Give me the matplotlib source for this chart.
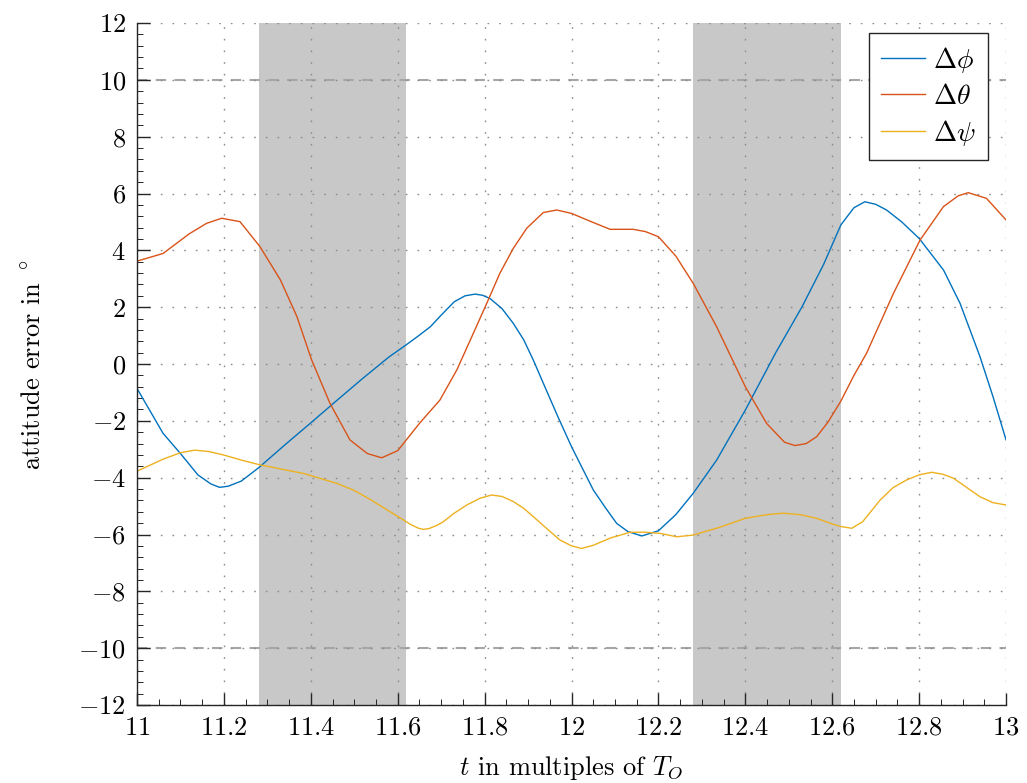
import numpy as np
import matplotlib
matplotlib.use("Agg")
import matplotlib.pyplot as plt
from matplotlib.ticker import MultipleLocator

plt.rcParams['font.family'] = 'serif'
plt.rcParams['font.serif'] = ['cmr10']
plt.rcParams['mathtext.fontset'] = 'cm'
plt.rcParams['axes.formatter.use_mathtext'] = True
plt.rcParams['axes.unicode_minus'] = True

# attitude errors (deg) over time (multiples of T_O)
t_phi = [11.00, 11.03, 11.06, 11.10, 11.14, 11.17, 11.19, 11.21, 11.24, 11.28,
         11.34, 11.40, 11.46, 11.52, 11.58, 11.62, 11.645, 11.675, 11.70, 11.73,
         11.755, 11.778, 11.795, 11.812, 11.84, 11.866, 11.89, 11.912, 11.94, 11.97,
         12.00, 12.05, 12.08, 12.104, 12.13, 12.162, 12.20, 12.24, 12.28, 12.334,
         12.40, 12.47, 12.53, 12.58, 12.62, 12.65, 12.675, 12.70, 12.725, 12.76,
         12.80, 12.856, 12.894, 12.94, 12.97, 13.00]
d_phi = [-0.86, -1.65, -2.44, -3.15, -3.90, -4.22, -4.34, -4.30, -4.12, -3.65,
         -2.85, -2.07, -1.28, -0.50, 0.25, 0.68, 0.96, 1.31, 1.72, 2.19,
         2.40, 2.46, 2.42, 2.31, 1.95, 1.43, 0.85, 0.14, -0.85, -1.90,
         -2.91, -4.43, -5.10, -5.61, -5.90, -6.05, -5.87, -5.30, -4.55, -3.38,
         -1.62, 0.40, 2.00, 3.50, 4.90, 5.50, 5.71, 5.62, 5.42, 5.00,
         4.42, 3.31, 2.14, 0.26, -1.15, -2.67]

t_theta = [11.00, 11.06, 11.12, 11.16, 11.195, 11.237, 11.283, 11.33, 11.368, 11.402,
           11.444, 11.49, 11.53, 11.563, 11.60, 11.65, 11.697, 11.736, 11.774, 11.805,
           11.835, 11.866, 11.897, 11.935, 11.966, 12.00, 12.05, 12.089, 12.142, 12.17,
           12.20, 12.24, 12.28, 12.334, 12.40, 12.449, 12.49, 12.514, 12.54, 12.564,
           12.59, 12.62, 12.65, 12.679, 12.741, 12.802, 12.856, 12.89, 12.913, 12.955,
           13.00]
d_theta = [3.62, 3.89, 4.58, 4.95, 5.13, 5.01, 4.13, 2.96, 1.67, 0.14,
           -1.38, -2.67, -3.15, -3.30, -3.05, -2.09, -1.27, -0.21, 1.08, 2.14,
           3.19, 4.07, 4.78, 5.33, 5.42, 5.30, 4.98, 4.74, 4.74, 4.66,
           4.48, 3.80, 2.84, 1.31, -0.80, -2.09, -2.75, -2.87, -2.80, -2.56,
           -2.05, -1.30, -0.40, 0.38, 2.49, 4.36, 5.54, 5.92, 6.03, 5.83,
           5.07]

t_psi = [11.00, 11.06, 11.10, 11.133, 11.165, 11.199, 11.24, 11.283, 11.333, 11.383,
         11.46, 11.50, 11.536, 11.57, 11.605, 11.63, 11.648, 11.659, 11.672, 11.69,
         11.705, 11.73, 11.759, 11.79, 11.816, 11.84, 11.866, 11.89, 11.912, 11.94,
         11.973, 12.00, 12.023, 12.05, 12.09, 12.135, 12.17, 12.204, 12.242, 12.28,
         12.34, 12.40, 12.45, 12.487, 12.526, 12.564, 12.60, 12.62, 12.645, 12.67,
         12.71, 12.74, 12.771, 12.80, 12.829, 12.855, 12.879, 12.91, 12.94, 12.97,
         13.00]
d_psi = [-3.77, -3.35, -3.12, -3.03, -3.08, -3.20, -3.38, -3.55, -3.70, -3.85,
         -4.20, -4.45, -4.76, -5.08, -5.41, -5.65, -5.78, -5.82, -5.79, -5.68,
         -5.55, -5.25, -4.96, -4.72, -4.61, -4.66, -4.84, -5.08, -5.37, -5.75,
         -6.19, -6.40, -6.49, -6.38, -6.12, -5.92, -5.92, -5.96, -6.08, -6.02,
         -5.75, -5.43, -5.30, -5.25, -5.30, -5.43, -5.63, -5.72, -5.78, -5.55,
         -4.79, -4.35, -4.08, -3.90, -3.81, -3.88, -4.02, -4.35, -4.67, -4.88,
         -4.96]

# eclipse intervals and error bound
eclipses = [(11.28, 11.62), (12.28, 12.62)]
bound = 10

fig = plt.figure(figsize=(10.27, 7.83), dpi=100)
ax = fig.add_axes([0.1334, 0.0996, 0.8462, 0.871])

for t0, t1 in eclipses:
    ax.axvspan(t0, t1, color='#c8c8c8', lw=0, zorder=0)

ax.axhline(bound, color='#a6a6a6', ls=(0, (5, 4)), lw=1.5, zorder=1)
ax.axhline(-bound, color='#a6a6a6', ls=(0, (5, 4)), lw=1.5, zorder=1)

ax.plot(t_phi, d_phi, color='#0072BD', lw=1.0, label=r'$\Delta\phi$', zorder=3)
ax.plot(t_theta, d_theta, color='#D95319', lw=1.0, label=r'$\Delta\theta$', zorder=3)
ax.plot(t_psi, d_psi, color='#EDB120', lw=1.0, label=r'$\Delta\psi$', zorder=3)

ax.set_xlim(11, 13)
ax.set_ylim(-12, 12)
ax.set_xticks(np.arange(11, 13.01, 0.2))
ax.set_xticklabels(['$11$', '$11.2$', '$11.4$', '$11.6$', '$11.8$', '$12$', '$12.2$',
                    '$12.4$', '$12.6$', '$12.8$', '$13$'])
ax.xaxis.set_minor_locator(MultipleLocator(0.05))
ax.yaxis.set_major_locator(MultipleLocator(2))
ax.yaxis.set_minor_locator(MultipleLocator(0.4))

ax.grid(True, which='major', color='#8c8c8c', ls=(0, (1.2, 7.2)), lw=1.0, zorder=2)
ax.set_axisbelow(False)

for s in ['top', 'right']:
    ax.spines[s].set_visible(False)
for s in ['left', 'bottom']:
    ax.spines[s].set_color('#262626')
    ax.spines[s].set_linewidth(1.0)
    ax.spines[s].set_zorder(4)

ax.tick_params(which='both', direction='in', colors='#262626', labelsize=19,
               labelcolor='black')
ax.tick_params(which='major', length=9, width=1.0)
ax.tick_params(which='minor', length=4, width=0.7)
ax.tick_params(axis='x', pad=8)
ax.tick_params(axis='y', pad=8)

ax.set_xlabel(r'$t$ in multiples of $T_O$', fontsize=19, labelpad=10)
ax.set_ylabel(r'attitude error in $^\circ$', fontsize=19, labelpad=24)

leg = ax.legend(loc='upper right', fontsize=20, fancybox=False, framealpha=1,
                edgecolor='#262626', handlelength=1.6, handletextpad=0.3,
                labelspacing=0.3, borderpad=0.42, borderaxespad=0,
                bbox_to_anchor=(0.979, 0.985))
leg.get_frame().set_linewidth(1.0)

fig.savefig('out.png', dpi=100)
